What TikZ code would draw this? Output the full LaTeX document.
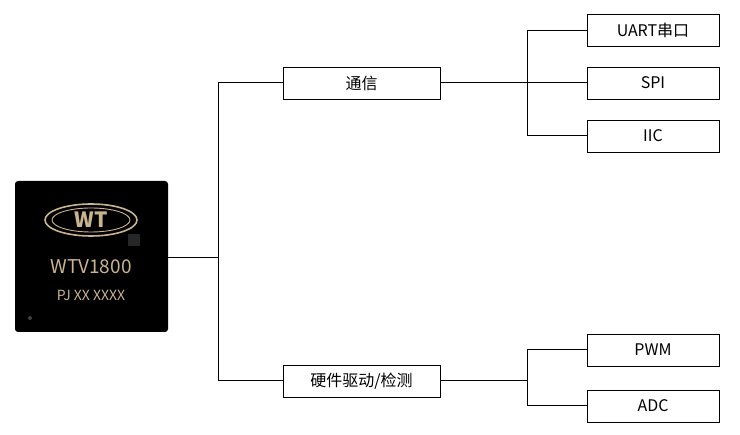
\documentclass[tikz,border=0pt]{standalone}
\usepackage{fontspec}
\setmainfont{Noto Sans CJK SC}
\definecolor{gold}{HTML}{C9B48E}
\begin{document}
\begin{tikzpicture}[x=1pt,y=-1pt,
  bx/.style={draw,line width=0.9pt,minimum height=32pt,inner sep=0pt,font=\fontsize{16}{16}\selectfont},
  mid/.style={bx,minimum width=157pt},
  leaf/.style={bx,minimum width=132pt},
  ln/.style={line width=1pt}]
\useasboundingbox (0,0) rectangle (740,435);
% chip
\node[fill=black,rounded corners=3pt,minimum width=153pt,minimum height=151pt,inner sep=0pt] (chip) at (91.5,256.5) {};
\draw[gold,line width=1.6pt] (91,220) ellipse (46 and 16);
\draw[gold,line width=0.9pt] (91,220) ellipse (39 and 12);
\node[text=gold,font=\bfseries\fontsize{21}{21}\selectfont] (wt) at (91,220) {WT};
\fill[black!85!white] (128,234) rectangle (140,246);
\node[text=gold,font=\fontsize{19}{19}\selectfont] (t1) at (91,267) {WTV1800};
\node[text=gold,font=\fontsize{14}{14}\selectfont] (t2) at (91,295) {PJ XX XXXX};
\fill[gray!50!black] (30,318) circle (2);
% mid boxes
\node[mid] (comm) at (361.5,83) {通信};
\node[mid] (hw) at (361.5,381) {硬件驱动/检测};
\node[leaf] (uart) at (653,30.5) {UART串口};
\node[leaf] (spi) at (653,83) {SPI};
\node[leaf] (iic) at (653,136) {IIC};
\node[leaf] (pwm) at (653,350) {PWM};
\node[leaf] (adc) at (653,406) {ADC};
\coordinate (j1) at (218,258);
\draw[ln] (chip.east|-j1) -- (j1);
\draw[ln] (j1) |- (comm.west);
\draw[ln] (j1) |- (hw.west);
\coordinate (j2) at (527,83);
\draw[ln] (comm.east) -- (spi.west);
\draw[ln] (j2) |- (uart.west);
\draw[ln] (j2) |- (iic.west);
\coordinate (j3) at (527,381);
\draw[ln] (hw.east) -- (j3);
\draw[ln] (j3) |- (pwm.west);
\draw[ln] (j3) |- (adc.west);
\end{tikzpicture}
\end{document}
